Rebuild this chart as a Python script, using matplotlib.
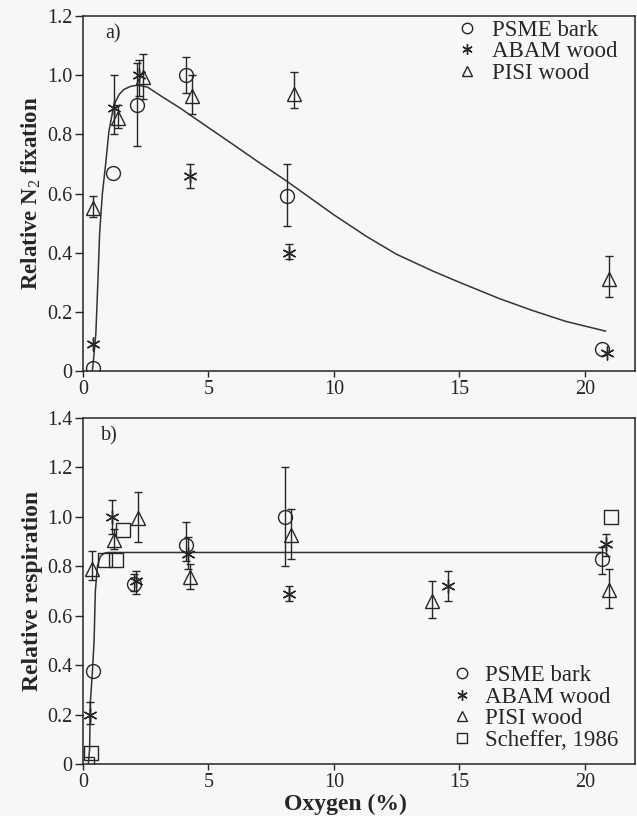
import numpy as np
import matplotlib
matplotlib.use("Agg")
import matplotlib.pyplot as plt
from matplotlib.ticker import FuncFormatter, FixedLocator

# ---------------- data: panel a) relative N2 fixation ----------------
a_psme_x = [0.42, 1.2, 2.15, 4.1, 8.15, 20.7]
a_psme_y = [0.01, 0.67, 0.90, 1.00, 0.59, 0.075]
a_psme_lo = [None, None, 0.76, 0.94, 0.49, None]
a_psme_hi = [None, None, 1.04, 1.06, 0.70, None]

a_abam_x = [0.42, 1.25, 2.25, 4.25, 8.2, 20.9]
a_abam_y = [0.09, 0.89, 1.00, 0.66, 0.40, 0.06]
a_abam_lo = [None, 0.80, 0.93, 0.62, 0.38, None]
a_abam_hi = [None, 1.00, 1.05, 0.70, 0.43, None]

a_pisi_x = [0.42, 1.4, 2.4, 4.35, 8.4, 20.95]
a_pisi_y = [0.55, 0.855, 0.995, 0.93, 0.935, 0.31]
a_pisi_lo = [0.52, 0.82, 0.92, 0.87, 0.89, 0.25]
a_pisi_hi = [0.59, 0.90, 1.07, 1.00, 1.01, 0.39]

a_fit_x = [0.38, 0.45, 0.52, 0.6, 0.67, 0.78, 0.91, 1.04, 1.24, 1.45, 1.64, 1.9,
           2.17, 2.57, 3.2, 3.89, 5.0, 6.0, 7.0, 8.12, 9.44, 10.0, 11.3, 12.49,
           13.94, 15.0, 16.59, 17.9, 19.23, 20.82]
a_fit_y = [0.0, 0.06, 0.128, 0.3, 0.466, 0.6, 0.70, 0.81, 0.90, 0.935, 0.952, 0.962,
           0.966, 0.96, 0.925, 0.888, 0.823, 0.765, 0.706, 0.642, 0.562, 0.528, 0.455, 0.395,
           0.338, 0.30, 0.245, 0.205, 0.168, 0.135]

# ---------------- data: panel b) relative respiration ----------------
b_psme_x = [0.42, 2.05, 4.1, 8.05, 20.7]
b_psme_y = [0.375, 0.73, 0.885, 1.00, 0.83]
b_psme_lo = [None, 0.70, 0.82, 0.80, 0.77]
b_psme_hi = [None, 0.77, 0.98, 1.20, 0.88]

b_abam_x = [0.3, 1.15, 2.1, 4.2, 8.2, 14.55, 20.85]
b_abam_y = [0.20, 1.00, 0.74, 0.85, 0.69, 0.72, 0.89]
b_abam_lo = [0.16, 0.93, 0.69, 0.79, 0.66, 0.66, 0.84]
b_abam_hi = [0.25, 1.07, 0.78, 0.92, 0.72, 0.78, 0.93]

b_pisi_x = [0.38, 1.25, 2.2, 4.25, 8.3, 13.9, 20.95]
b_pisi_y = [0.79, 0.905, 0.995, 0.755, 0.925, 0.66, 0.705]
b_pisi_lo = [0.745, 0.87, 0.90, 0.71, 0.83, 0.59, 0.63]
b_pisi_hi = [0.86, 0.95, 1.10, 0.81, 1.03, 0.74, 0.79]

b_sch_x = [0.15, 0.32, 0.88, 1.33, 1.62, 21.05]
b_sch_y = [0.0, 0.045, 0.825, 0.825, 0.945, 1.00]

b_fit_x = [0.22, 0.27, 0.3, 0.38, 0.45, 0.5, 0.58, 0.7, 0.85, 1.0, 20.7]
b_fit_y = [0.0, 0.06, 0.25, 0.37, 0.5, 0.7, 0.8, 0.84, 0.853, 0.856, 0.856]

labels = ["PSME bark", "ABAM wood", "PISI wood", "Scheffer, 1986"]
a_yticks = [0, 0.2, 0.4, 0.6, 0.8, 1.0, 1.2]
b_yticks = [0, 0.2, 0.4, 0.6, 0.8, 1.0, 1.2, 1.4]
xticks = [0, 5, 10, 15, 20]

# ---------------- style ----------------
plt.rcParams['font.family'] = ['Liberation Serif', 'DejaVu Serif']
plt.rcParams['mathtext.fontset'] = 'custom'
plt.rcParams['mathtext.rm'] = 'Liberation Serif'
plt.rcParams['mathtext.bf'] = 'Liberation Serif:bold'
INK = '#262626'
BG = '#f7f7f5'
ASTER = (6, 2, 0)

fig = plt.figure(figsize=(6.37, 8.16), dpi=100, facecolor=BG)
axa = fig.add_axes([0.130, 0.5453, 0.867, 0.4351])
axb = fig.add_axes([0.130, 0.0637, 0.867, 0.4240])

mstyle = {
    'o': dict(marker='o', ms=10, mfc='none', mec=INK, mew=1.0),
    '*': dict(marker=ASTER, ms=10, mfc='none', mec=INK, mew=1.0),
    '^': dict(marker='^', ms=10, mfc='none', mec=INK, mew=1.0),
    's': dict(marker='s', ms=10, mfc='none', mec=INK, mew=1.0),
}


def errs(ax, x, y, lo, hi):
    xs, ys, el, eh = [], [], [], []
    for xi, yi, l, h in zip(x, y, lo, hi):
        if l is None:
            continue
        xs.append(xi); ys.append(yi); el.append(yi - l); eh.append(h - yi)
    if xs:
        ax.errorbar(xs, ys, yerr=[el, eh], fmt='none', ecolor=INK, elinewidth=1.0,
                    capsize=3.2, capthick=1.0, zorder=3)


def series(ax, x, y, key, label):
    return ax.plot(x, y, linestyle='none', label=label, zorder=4, **mstyle[key])[0]


def fmt(v, pos):
    return '0' if abs(v) < 1e-9 else f'{v:.1f}'


# panel a
axa.plot(a_fit_x, a_fit_y, color='#333333', lw=1.1, zorder=2)
errs(axa, a_psme_x, a_psme_y, a_psme_lo, a_psme_hi)
errs(axa, a_abam_x, a_abam_y, a_abam_lo, a_abam_hi)
errs(axa, a_pisi_x, a_pisi_y, a_pisi_lo, a_pisi_hi)
series(axa, a_psme_x, a_psme_y, 'o', labels[0])
series(axa, a_abam_x, a_abam_y, '*', labels[1])
series(axa, a_pisi_x, a_pisi_y, '^', labels[2])
axa.set_ylim(0, 1.2)
axa.yaxis.set_major_locator(FixedLocator(a_yticks))
axa.set_ylabel('Relative N$_2$ fixation', fontsize=16.5, fontweight='bold', labelpad=3)
axa.text(0.055, 0.95, 'a)', transform=axa.transAxes, fontsize=14.5, ha='center', va='center', color=INK)
axa.legend(loc='upper left', bbox_to_anchor=(0.675, 0.99), frameon=False, fontsize=16.5,
           labelspacing=0.02, handlelength=1.0, handletextpad=0.6, borderpad=0,
           borderaxespad=0, markerscale=0.75, labelcolor=INK)

# panel b
axb.plot(b_fit_x, b_fit_y, color='#333333', lw=1.1, zorder=2)
errs(axb, b_psme_x, b_psme_y, b_psme_lo, b_psme_hi)
errs(axb, b_abam_x, b_abam_y, b_abam_lo, b_abam_hi)
errs(axb, b_pisi_x, b_pisi_y, b_pisi_lo, b_pisi_hi)
series(axb, b_psme_x, b_psme_y, 'o', labels[0])
series(axb, b_abam_x, b_abam_y, '*', labels[1])
series(axb, b_pisi_x, b_pisi_y, '^', labels[2])
series(axb, b_sch_x, b_sch_y, 's', labels[3])
axb.set_ylim(0, 1.4)
axb.yaxis.set_major_locator(FixedLocator(b_yticks))
axb.set_ylabel('Relative respiration', fontsize=17, fontweight='bold', labelpad=3)
axb.set_xlabel('Oxygen (%)', fontsize=17, fontweight='bold', labelpad=0)
axb.xaxis.set_label_coords(0.476, -0.085)
axb.text(0.048, 0.948, 'b)', transform=axb.transAxes, fontsize=14.5, ha='center', va='center', color=INK)
axb.legend(loc='upper left', bbox_to_anchor=(0.666, 0.285), frameon=False, fontsize=16.5,
           labelspacing=0.02, handlelength=1.0, handletextpad=0.5, borderpad=0,
           borderaxespad=0, markerscale=0.75, labelcolor=INK)

for ax in (axa, axb):
    ax.set_facecolor(BG)
    ax.set_xlim(0, 22)
    ax.xaxis.set_major_locator(FixedLocator(xticks))
    ax.yaxis.set_major_formatter(FuncFormatter(fmt))
    ax.tick_params(axis='both', direction='out', colors=INK, labelsize=14.5, width=1.0)
    ax.tick_params(axis='y', length=6, pad=1.5)
    ax.tick_params(axis='x', length=4, pad=2.5)
    for s in ax.spines.values():
        s.set_linewidth(1.1)
        s.set_color(INK)
    ax.yaxis.label.set_color(INK)
    ax.xaxis.label.set_color(INK)

fig.savefig('out.png', dpi=100, facecolor=BG)
